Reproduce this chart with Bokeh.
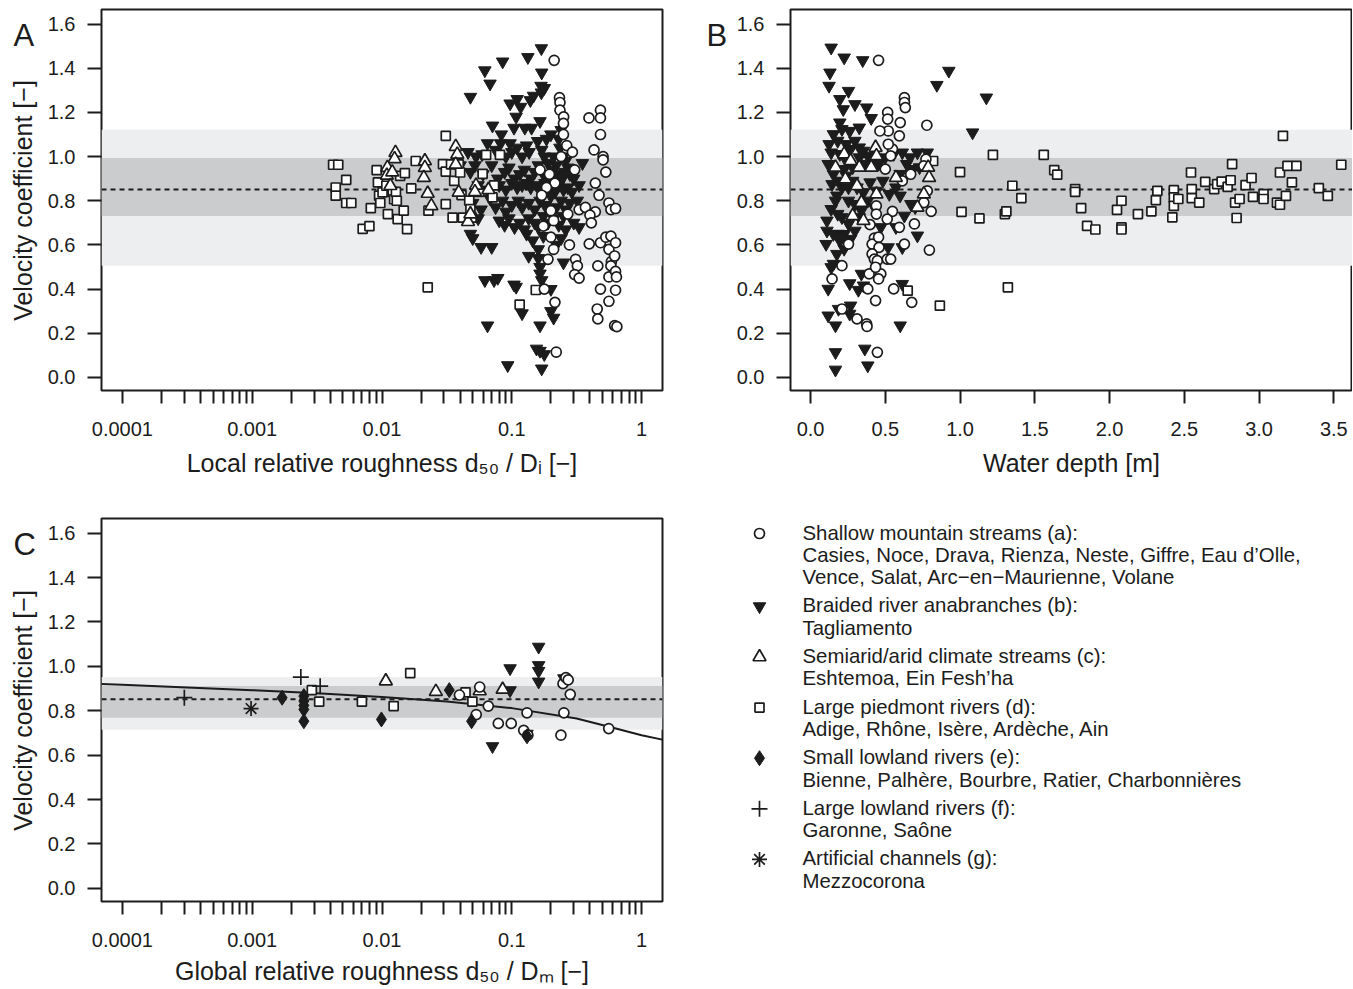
import math
from bokeh.plotting import figure
from bokeh.models import (Range1d, FixedTicker, PrintfTickFormatter, CustomJSTickFormatter,
                          BoxAnnotation, Span, ColumnDataSource)
from bokeh.layouts import row, column
from bokeh.embed import file_html
from bokeh.resources import INLINE
from bokeh.core.properties import value

# ------------------------------------------------------------------ data
# Panel A: local relative roughness d50/Di  vs velocity coefficient
A_mountain = [(0.212,1.436),(0.233,1.267),(0.235,1.245),(0.235,1.21),(0.251,1.18),(0.25,1.15),(0.25,1.10),
 (0.265,1.05),(0.24,1.0),(0.293,1.02),(0.305,0.94),(0.165,0.94),(0.195,0.92),(0.215,0.88),(0.185,0.86),
 (0.17,0.825),(0.2,0.755),(0.21,0.71),(0.2,0.635),(0.21,0.58),(0.19,0.535),(0.175,0.685),(0.215,0.34),
 (0.22,0.115),(0.178,0.40),(0.278,0.60),(0.31,0.535),(0.32,0.505),(0.305,0.466),(0.33,0.45),(0.27,0.74),
 (0.33,0.76),(0.369,0.77),(0.393,1.175),(0.482,1.21),(0.482,1.175),(0.482,1.10),(0.43,1.03),(0.505,1.0),
 (0.505,0.985),(0.53,0.93),(0.44,0.88),(0.47,0.825),(0.44,0.75),(0.40,0.735),(0.41,0.70),(0.395,0.605),
 (0.482,0.61),(0.46,0.505),(0.482,0.40),(0.455,0.31),(0.46,0.265),(0.53,0.635),(0.56,0.79),(0.58,0.76),
 (0.58,0.64),(0.56,0.58),(0.585,0.525),(0.58,0.505),(0.56,0.455),(0.63,0.48),(0.63,0.61),(0.62,0.55),
 (0.64,0.455),(0.63,0.395),(0.56,0.345),(0.62,0.235),(0.645,0.23),(0.63,0.765)]
A_braided = [(0.169,1.49),(0.17,1.38),(0.168,1.32),(0.178,1.31),(0.133,1.45),(0.085,1.43),(0.062,1.39),
 (0.068,1.33),(0.048,1.27),(0.071,1.14),(0.097,1.24),(0.117,1.225),(0.11,1.26),(0.139,1.255),(0.147,1.275),
 (0.169,1.29),(0.108,1.18),(0.104,1.13),(0.126,1.13),(0.142,1.13),(0.165,1.16),(0.083,1.10),
 (0.046,1.02),(0.053,1.0),(0.059,1.01),(0.065,1.06),(0.075,1.03),(0.082,1.06),(0.09,1.0),(0.097,1.06),
 (0.10,1.02),(0.11,1.04),(0.12,1.0),(0.13,1.05),(0.136,1.02),(0.158,1.07),(0.17,1.03),(0.178,1.0),
 (0.19,0.97),(0.21,1.0),(0.22,0.96),(0.235,1.04),(0.25,1.0),(0.26,0.98),(0.27,0.95),(0.2,1.1),(0.185,1.08),
 (0.23,1.08),(0.24,1.12),(0.04,0.96),(0.048,0.93),(0.052,0.96),(0.06,0.92),(0.07,0.96),(0.078,0.9),
 (0.088,0.93),(0.095,0.95),(0.105,0.9),(0.115,0.92),(0.125,0.94),(0.14,0.9),(0.15,0.93),(0.16,0.96),
 (0.175,0.92),(0.195,0.9),(0.205,0.94),(0.225,0.92),(0.245,0.9),(0.255,0.93),(0.28,0.92),(0.3,0.9),
 (0.35,0.97),(0.055,0.87),(0.065,0.85),(0.08,0.87),(0.09,0.85),(0.1,0.88),(0.11,0.86),(0.12,0.87),
 (0.13,0.88),(0.14,0.86),(0.155,0.87),(0.17,0.85),(0.18,0.88),(0.2,0.86),(0.215,0.84),(0.23,0.87),
 (0.25,0.85),(0.27,0.86),(0.29,0.84),(0.33,0.87),(0.05,0.79),(0.058,0.76),(0.068,0.81),(0.075,0.77),
 (0.085,0.8),(0.09,0.75),(0.1,0.78),(0.112,0.8),(0.12,0.77),(0.135,0.79),(0.15,0.76),(0.165,0.8),
 (0.18,0.78),(0.2,0.82),(0.22,0.77),(0.24,0.8),(0.26,0.76),(0.28,0.79),(0.32,0.8),(0.055,0.72),(0.08,0.71),
 (0.088,0.69),(0.095,0.72),(0.105,0.68),(0.115,0.7),(0.125,0.67),(0.135,0.72),(0.15,0.7),(0.16,0.68),
 (0.175,0.73),(0.19,0.7),(0.21,0.72),(0.23,0.69),(0.25,0.73),(0.26,0.67),(0.3,0.7),(0.33,0.68),
 (0.048,0.65),(0.05,0.63),(0.058,0.59),(0.07,0.59),(0.13,0.65),(0.145,0.62),(0.16,0.58),(0.175,0.64),
 (0.22,0.6),(0.24,0.63),(0.135,0.55),(0.16,0.54),(0.165,0.5),(0.165,0.47),(0.25,0.52),(0.17,0.44),
 (0.062,0.44),(0.073,0.44),(0.078,0.45),(0.104,0.42),(0.108,0.41),(0.2,0.40),(0.12,0.29),(0.2,0.3),
 (0.21,0.27),(0.065,0.235),(0.165,0.235),(0.155,0.13),(0.165,0.12),(0.093,0.055),(0.17,0.04),(0.178,0.105)]
A_semiarid = [(0.0127,1.018),(0.0125,0.99),(0.011,0.95),(0.0109,0.915),(0.012,0.93),(0.0116,0.868),
 (0.0214,0.98),(0.0214,0.95),(0.021,0.905),(0.0225,0.833),(0.024,0.777),(0.037,1.045),(0.038,1.01),
 (0.037,0.965),(0.039,0.838),(0.046,0.705),(0.048,0.74),(0.053,0.87),(0.052,0.84),(0.066,0.85)]
A_piedmont = [(0.0042,0.963),(0.0046,0.963),(0.0044,0.86),(0.0044,0.823),(0.0053,0.895),(0.0053,0.79),
 (0.0058,0.79),(0.0071,0.673),(0.008,0.685),(0.0082,0.767),(0.0091,0.939),(0.0093,0.883),(0.0095,0.823),
 (0.0097,0.79),(0.0101,0.838),(0.0108,0.868),(0.0111,0.74),(0.0121,0.84),(0.0124,0.807),(0.0128,0.84),
 (0.013,0.80),(0.0132,0.717),(0.0138,0.913),(0.0147,0.755),(0.0156,0.672),(0.015,0.925),(0.0168,0.856),
 (0.0182,0.98),(0.0225,0.408),(0.0228,0.755),(0.0295,0.966),(0.031,1.094),(0.031,0.932),(0.031,0.785),
 (0.034,0.965),(0.035,0.724),(0.036,0.89),(0.039,0.965),(0.040,0.928),(0.041,0.826),(0.042,0.724),
 (0.047,0.80),(0.048,0.762),(0.049,0.724),(0.056,0.84),(0.0596,0.922),(0.0634,1.008),(0.071,0.815),
 (0.073,0.87),(0.081,1.008),(0.115,0.33),(0.153,0.396)]

# Panel B: water depth [m] vs velocity coefficient
B_mountain = [(0.455,1.436),(0.516,1.2),(0.516,1.17),(0.628,1.267),(0.628,1.245),(0.634,1.222),(0.6,1.154),
 (0.594,1.094),(0.52,1.116),(0.464,1.116),(0.778,1.142),(0.548,1.034),(0.52,1.056),(0.536,1.003),(0.5,0.943),
 (0.772,0.988),(0.758,0.958),(0.67,0.92),(0.614,0.89),(0.781,0.845),(0.758,0.792),(0.807,0.752),(0.548,0.752),
 (0.44,0.777),(0.44,0.74),(0.398,0.692),(0.513,0.717),(0.695,0.695),(0.594,0.68),(0.427,0.631),(0.412,0.604),
 (0.458,0.589),(0.455,0.635),(0.412,0.559),(0.427,0.536),(0.447,0.529),(0.513,0.536),(0.536,0.536),
 (0.628,0.604),(0.795,0.577),(0.21,0.506),(0.144,0.446),(0.392,0.469),(0.47,0.469),(0.455,0.446),
 (0.435,0.499),(0.383,0.401),(0.556,0.401),(0.435,0.348),(0.677,0.34),(0.21,0.31),(0.311,0.265),
 (0.375,0.243),(0.378,0.231),(0.447,0.114),(0.254,0.604)]
B_braided = [(0.138,1.493),(0.225,1.448),(0.349,1.436),(0.13,1.38),(0.124,1.32),(0.254,1.297),(0.196,1.26),
 (0.297,1.237),(0.375,1.222),(0.406,1.174),(0.219,1.214),(0.196,1.154),(0.262,1.116),(0.326,1.131),
 (0.845,1.324),(0.925,1.388),(1.084,1.109),(1.176,1.267),(0.6,0.235),(0.614,0.423),(0.614,0.589),(0.519,0.589),
 (0.124,1.056),(0.138,1.018),(0.118,0.966),(0.153,0.92),(0.144,0.875),(0.176,0.823),(0.11,0.71),(0.11,0.664),
 (0.104,0.604),(0.138,0.762),(0.182,0.74),(0.187,0.65),(0.176,0.559),(0.138,0.499),(0.118,0.401),(0.118,0.28),
 (0.167,0.235),(0.167,0.114),(0.167,0.035),(0.363,0.13),(0.383,0.054),(0.268,0.325),(0.262,0.288),(0.187,0.31),
 (0.262,0.426),(0.32,0.396),(0.354,0.416),(0.34,0.469),(0.239,1.056),(0.268,1.034),(0.297,1.071),(0.326,1.041),
 (0.354,1.026),(0.383,1.003),(0.239,0.981),(0.282,0.951),(0.326,0.996),(0.369,0.966),(0.412,0.981),
 (0.455,0.966),(0.499,0.996),(0.556,1.011),(0.614,1.018),(0.666,0.996),(0.715,1.018),(0.729,0.951),
 (0.686,0.943),(0.643,0.966),(0.599,0.921),(0.571,0.86),(0.527,0.83),(0.599,0.823),(0.671,0.785),(0.7,0.77),
 (0.628,0.732),(0.571,0.68),(0.715,0.642),(0.239,0.913),(0.282,0.89),(0.311,0.86),(0.354,0.838),(0.398,0.883),
 (0.441,0.845),(0.484,0.89),(0.254,0.8),(0.297,0.785),(0.34,0.755),(0.21,0.725),(0.254,0.695),(0.297,0.664),
 (0.225,0.649),(0.196,0.619),(0.268,0.627),(0.326,0.725),(0.383,0.8),(0.427,0.77),(0.47,0.68),(0.153,1.101),
 (0.182,1.071),(0.21,1.124),(0.196,1.011),(0.225,0.943),(0.196,0.89),(0.167,0.8),(0.21,0.86),(0.254,0.86),
 (0.153,0.649),(0.225,0.582),(0.153,0.514),(0.781,1.018)]
B_semiarid = [(0.225,1.011),(0.233,0.898),(0.311,0.868),(0.34,0.792),(0.354,0.71),(0.435,1.041),(0.441,1.003),
 (0.406,0.951),(0.441,0.83),(0.571,0.905),(0.715,0.77),(0.758,0.83),(0.787,0.951),(0.793,0.905),(0.326,0.951),
 (0.268,0.981),(0.167,0.951),(0.282,0.732)]
B_piedmont = [(0.82,0.98),(1.0,0.93),(1.01,0.75),(1.13,0.72),(1.22,1.008),(1.30,0.74),(1.31,0.752),(1.32,0.408),
 (1.35,0.868),(1.41,0.812),(1.56,1.008),(1.63,0.939),(1.65,0.918),(1.77,0.853),(1.77,0.84),(1.81,0.767),
 (1.85,0.686),(1.905,0.67),(2.05,0.759),(2.08,0.8),(2.08,0.68),(2.08,0.67),(2.19,0.74),(2.28,0.752),
 (2.31,0.803),(2.32,0.845),(2.42,0.725),(2.43,0.848),(2.43,0.815),(2.43,0.777),(2.46,0.808),(2.545,0.928),
 (2.55,0.853),(2.55,0.812),(2.6,0.792),(2.64,0.886),(2.70,0.853),(2.72,0.875),(2.75,0.887),(2.79,0.863),
 (2.81,0.893),(2.82,0.966),(2.84,0.792),(2.85,0.722),(2.87,0.808),(2.91,0.871),(2.95,0.903),(2.96,0.818),
 (3.03,0.83),(3.03,0.808),(3.12,0.792),(3.14,0.928),(3.14,0.782),(3.16,1.094),(3.18,0.822),(3.19,0.958),
 (3.22,0.883),(3.25,0.958),(3.40,0.857),(3.46,0.822),(3.55,0.963),(0.65,0.393),(0.865,0.325)]

# Panel C: global relative roughness d50/Dm vs velocity coefficient
C_mountain = [(0.0395,0.871),(0.0566,0.907),(0.0532,0.783),(0.0659,0.821),(0.0787,0.743),(0.099,0.743),
 (0.1235,0.712),(0.131,0.791),(0.133,0.69),(0.239,0.69),(0.248,0.922),(0.252,0.791),(0.261,0.949),
 (0.272,0.939),(0.282,0.874),(0.558,0.72)]
C_braided = [(0.161,1.088),(0.161,1.005),(0.161,0.979),(0.161,0.931),(0.097,0.991),(0.097,0.892),(0.071,0.64),
 (0.131,0.696),(0.252,0.946)]
C_semiarid = [(0.0107,0.934),(0.026,0.886),(0.0566,0.889),(0.085,0.896)]
C_piedmont = [(0.00288,0.893),(0.00328,0.841),(0.0070,0.841),(0.0123,0.821),(0.0165,0.97),(0.044,0.883),
 (0.0497,0.841)]
C_small_lowland = [(0.0017,0.859),(0.0025,0.866),(0.0025,0.844),(0.0025,0.824),(0.0025,0.806),(0.0025,0.753),
 (0.0099,0.761),(0.033,0.893),(0.049,0.753),(0.131,0.685)]
C_large_lowland = [(0.0003,0.859),(0.00237,0.952),(0.00334,0.911)]
C_artificial = [(0.00098,0.81)]
C_curve_x = [6.9e-5, 1e-4, 3.16e-4, 1e-3, 3.16e-3, 1e-2, 3.16e-2, 0.1, 0.316, 0.562, 1.0, 1.445]
C_curve_v = [0.921, 0.917, 0.905, 0.893, 0.879, 0.862, 0.842, 0.812, 0.765, 0.728, 0.690, 0.670]

# mean and bands (inner / outer) per panel
AB_mean, AB_inner, AB_outer = 0.851, (0.731, 0.994), (0.506, 1.121)
C_mean, C_inner, C_outer = 0.852, (0.769, 0.912), (0.714, 0.952)

Y_TICKS = [0.0, 0.2, 0.4, 0.6, 0.8, 1.0, 1.2, 1.4, 1.6]
LOG_TICKS = [1e-4, 1e-3, 1e-2, 1e-1, 1.0]
B_TICKS = [0.0, 0.5, 1.0, 1.5, 2.0, 2.5, 3.0, 3.5]

Y_TITLE = "Velocity coefficient [\u2212]"
LEGEND_TITLES = ["Shallow mountain streams (a):", "Braided river anabranches (b):",
                 "Semiarid/arid climate streams (c):", "Large piedmont rivers (d):",
                 "Small lowland rivers (e):", "Large lowland rivers (f):", "Artificial channels (g):"]
LEGEND_RIVERS = [["Casies, Noce, Drava, Rienza, Neste, Giffre, Eau d\u2019Olle,",
                  "Vence, Salat, Arc\u2212en\u2212Maurienne, Volane"],
                 ["Tagliamento"], ["Eshtemoa, Ein Fesh\u2019ha"],
                 ["Adige, Rh\u00f4ne, Is\u00e8re, Ard\u00e8che, Ain"],
                 ["Bienne, Palh\u00e8re, Bourbre, Ratier, Charbonni\u00e8res"],
                 ["Garonne, Sa\u00f4ne"], ["Mezzocorona"]]
LEGEND_KEYS = ["a", "b", "c", "d", "e", "f", "g"]

# ------------------------------------------------------------------ style
FONT = "Liberation Sans"
INK = "#1c1c1c"
LIGHT = "#EDEEF0"
DARK = "#CBCCCE"
Y_LO, Y_HI = -0.059, 1.666

STYLE = {
    "a": dict(marker="circle", size=10, fill_color="white", line_color=INK, line_width=1.7),
    "b": dict(marker="inverted_triangle", size=12.5, fill_color=INK, line_color=INK, line_width=1),
    "c": dict(marker="triangle", size=13, fill_color="white", line_color=INK, line_width=1.7),
    "d": dict(marker="square", size=9, fill_color="white", line_color=INK, line_width=1.7),
    "e": dict(marker="diamond", size=15, fill_color=INK, line_color=INK, line_width=1),
    "f": dict(marker="cross", size=16, fill_color=None, line_color=INK, line_width=1.7),
    "g": dict(marker="asterisk", size=15, fill_color=None, line_color=INK, line_width=1.7),
}

# layout (page pixels; the page has no margin)
ROW1_H, ROW2_H = 495, 493
STRIP_A_W, STRIP_B_W = 44, 30
PA_W, PB_W, PL_W = 656, 622, 652
BORD1 = (9, 105)      # top / bottom border of row 1 panels
BORD2 = (23, 87)      # top / bottom border of row 2 panels


def bare(width, height, xr, yr, top, bottom):
    f = figure(width=width, height=height, x_range=xr, y_range=yr,
               output_backend="svg", toolbar_location=None,
               x_axis_location=None, y_axis_location=None,
               min_border_left=0, min_border_right=0,
               min_border_top=top, min_border_bottom=bottom)
    f.grid.visible = False
    f.outline_line_color = None
    f.background_fill_color = "white"
    f.border_fill_color = "white"
    return f


def strip(width, height, top, bottom, letter, letter_x, ytitle_x):
    # side strip holding the panel letter and (optionally) the rotated y title
    fr_top, fr_bot = top, height - bottom
    s = bare(width, height, Range1d(0, width), Range1d(-fr_bot, -fr_top), top, bottom)
    s.text(x=[letter_x], y=[-(fr_top + 26)], text=[letter], text_font=value(FONT),
           text_font_size="31px", text_color=INK, text_baseline="alphabetic", text_align="left")
    if ytitle_x is not None:
        s.text(x=[ytitle_x], y=[-(fr_top + fr_bot) / 2 - 0.5], text=[Y_TITLE], angle=math.pi / 2,
               text_font=value(FONT), text_font_size="25px", text_color=INK,
               text_baseline="middle", text_align="center")
    return s


def panel(width, height, xr, log, left, right, top, bottom, xlabel, bands, title_standoff=11):
    p = figure(width=width, height=height, x_range=xr, y_range=Range1d(Y_LO, Y_HI),
               x_axis_type="log" if log else "linear",
               output_backend="svg", toolbar_location=None,
               min_border_left=left, min_border_right=right,
               min_border_top=top, min_border_bottom=bottom)
    p.grid.visible = False
    p.outline_line_color = INK
    p.outline_line_width = 2
    p.outline_line_alpha = 1
    p.background_fill_color = "white"
    p.border_fill_color = "white"
    for ax in p.axis:
        ax.axis_line_color = None
        ax.major_tick_line_color = INK
        ax.major_tick_line_width = 2
        ax.major_tick_in = 0
        ax.minor_tick_line_color = INK
        ax.minor_tick_line_width = 2
        ax.minor_tick_in = 0
        ax.major_label_text_font = FONT
        ax.major_label_text_font_size = "20px"
        ax.major_label_text_color = INK
        ax.axis_label_text_font = FONT
        ax.axis_label_text_font_size = "25px"
        ax.axis_label_text_font_style = "normal"
        ax.axis_label_text_color = INK
    ya = p.yaxis[0]
    ya.ticker = FixedTicker(ticks=Y_TICKS)
    ya.formatter = PrintfTickFormatter(format="%.1f")
    ya.major_tick_out = 14
    ya.minor_tick_out = 0
    ya.minor_tick_line_color = None
    ya.major_label_standoff = 12
    xa = p.xaxis[0]
    if log:
        minors = [k * 10.0 ** e for e in range(-4, 0) for k in range(2, 10)]
        xa.ticker = FixedTicker(ticks=LOG_TICKS, minor_ticks=minors)
        xa.formatter = CustomJSTickFormatter(code="return tick.toString();")
    else:
        xa.ticker = FixedTicker(ticks=B_TICKS)
        xa.formatter = PrintfTickFormatter(format="%.1f")
        xa.minor_tick_line_color = None
    xa.major_tick_out = 13
    xa.minor_tick_out = 13
    xa.major_label_standoff = 18
    xa.axis_label = xlabel
    xa.axis_label_standoff = title_standoff

    mean, inner, outer = bands
    p.add_layout(BoxAnnotation(bottom=outer[0], top=outer[1], fill_color=LIGHT, fill_alpha=1,
                               line_color=None, level="underlay"))
    p.add_layout(BoxAnnotation(bottom=inner[0], top=inner[1], fill_color=DARK, fill_alpha=1,
                               line_color=None, level="underlay"))
    p.add_layout(Span(location=mean, dimension="width", line_color=INK, line_width=1.9,
                      line_dash="5 4", level="underlay"))
    return p


def add_series(p, pts, key):
    xs = [q[0] for q in pts]
    vs = [q[1] for q in pts]
    p.scatter(x=xs, y=vs, **STYLE[key])


LOG_RANGE = (10 ** -4.161, 10 ** 0.161)
B_PX_PER_M = 149.5
B_LEFT = -0.134

# ------------------------------------------------------------------ panel A
sA = strip(STRIP_A_W, ROW1_H, BORD1[0], BORD1[1], "A", 13, 22)
pA = panel(PA_W, ROW1_H, Range1d(*LOG_RANGE), True, 55, 38, BORD1[0], BORD1[1],
           "Local relative roughness d\u2085\u2080 / D\u1d62 [\u2212]", (AB_mean, AB_inner, AB_outer),
           title_standoff=10)
add_series(pA, A_braided, "b")
add_series(pA, A_piedmont, "d")
add_series(pA, A_semiarid, "c")
add_series(pA, A_mountain, "a")

# ------------------------------------------------------------------ panel B
sB = strip(STRIP_B_W, ROW1_H, BORD1[0], BORD1[1], "B", 6, None)
b_frame_w = PB_W - 60
pB = panel(PB_W, ROW1_H, Range1d(B_LEFT, B_LEFT + b_frame_w / B_PX_PER_M), False, 60, 0,
           BORD1[0], BORD1[1], "Water depth [m]", (AB_mean, AB_inner, AB_outer), title_standoff=10)
add_series(pB, B_braided, "b")
add_series(pB, B_piedmont, "d")
add_series(pB, B_mountain, "a")
add_series(pB, B_semiarid, "c")

# ------------------------------------------------------------------ panel C
sC = strip(STRIP_A_W, ROW2_H, BORD2[0], BORD2[1], "C", 13, 22)
pC = panel(PA_W, ROW2_H, Range1d(*LOG_RANGE), True, 55, 38, BORD2[0], BORD2[1],
           "Global relative roughness d\u2085\u2080 / D\u2098 [\u2212]", (C_mean, C_inner, C_outer),
           title_standoff=7)
pC.line(x=C_curve_x, y=C_curve_v, line_color=INK, line_width=2)
add_series(pC, C_braided, "b")
add_series(pC, C_piedmont, "d")
add_series(pC, C_semiarid, "c")
add_series(pC, C_mountain, "a")
add_series(pC, C_small_lowland, "e")
add_series(pC, C_large_lowland, "f")
add_series(pC, C_artificial, "g")

# ------------------------------------------------------------------ legend panel
# coordinates: x = page pixels, y = page pixels (inverted range)
L_X0 = STRIP_A_W + PA_W
L_Y0 = ROW1_H
pL = bare(PL_W, ROW2_H, Range1d(L_X0, L_X0 + PL_W),
          Range1d(L_Y0 + ROW2_H - BORD2[1], L_Y0 + BORD2[0]), BORD2[0], BORD2[1])

SYM_X, TXT_X, Y_FIRST, LINE, GAP = 759, 802, 532, 22.3, 6
tx, ty, tt = [], [], []
y = Y_FIRST
for key, title, rivers in zip(LEGEND_KEYS, LEGEND_TITLES, LEGEND_RIVERS):
    pL.scatter(x=[SYM_X], y=[y + 1], **STYLE[key])
    lines = [title] + rivers
    for i, t in enumerate(lines):
        tx.append(TXT_X)
        ty.append(y + i * LINE)
        tt.append(t)
    y += len(lines) * LINE + GAP
pL.text(x="x", y="y", text="t", source=ColumnDataSource(dict(x=tx, y=ty, t=tt)),
        text_font=value(FONT), text_font_size="20.4px", text_color=INK,
        text_baseline="middle", text_align="left")

layout = column(row(sA, pA, sB, pB), row(sC, pC, pL))
open("out.html", "w").write(file_html(layout, INLINE))
